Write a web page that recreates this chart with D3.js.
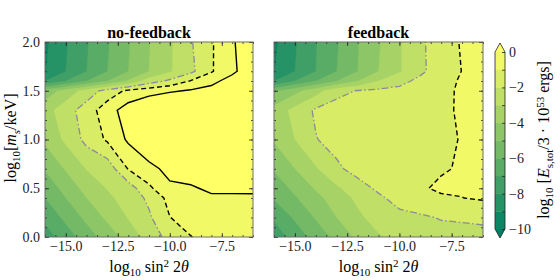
<!DOCTYPE html>
<html>
<head>
<meta charset="utf-8">
<script src="https://cdn.jsdelivr.net/npm/d3@7"></script>
<style>
body { margin: 0; background: #fff; }
</style>
</head>
<body>
<div id="canvas"></div>
<script>
// grid of log10 sin^2 2theta (columns) and m_s (rows)
var xs = [-16, -15, -14, -13, -12, -11, -10, -9, -8, -7, -6];
var ms = [0, 0.2, 0.4, 0.5, 0.7, 1.0, 1.3, 1.5, 1.6, 1.7, 2.0];

// log10 E values, one row per m
var noFeedback = [
  [-7.5, -6.5, -5.5, -4.55, -3.6, -2.6, -1.65, -1.03, -0.7, -0.55, -0.45],
  [-6.75, -5.75, -4.75, -3.8, -2.95, -2.15, -1.02, -0.6, -0.4, -0.3, -0.25],
  [-6.0, -5.0, -4.0, -3.2, -2.6, -1.8, -0.68, -0.35, -0.12, -0.08, -0.06],
  [-5.65, -4.65, -3.65, -2.95, -2.5, -1.2, -0.15, -0.1, 0.15, 0.1, 0.08],
  [-4.9, -3.9, -2.95, -2.6, -0.95, -0.25, 0.25, 0.45, 0.6, 0.65, 0.7],
  [-3.8, -2.8, -1.7, -0.85, 0.15, 0.8, 1.2, 1.5, 1.8, 2.0, 2.2],
  [-3.4, -2.45, -1.5, -0.45, 0.5, 1.2, 1.6, 1.8, 2.0, 2.1, 2.2],
  [-4.6, -3.6, -2.6, -1.6, -0.8, -0.45, -0.15, 0.1, 0.4, 0.8, 1.2],
  [-8.0, -7.0, -6.0, -5.0, -3.9, -2.5, -1.8, -0.95, -0.35, 0.5, 1.1],
  [-9.05, -8.0, -7.0, -6.0, -5.0, -4.0, -3.1, -2.25, -1.08, -0.28, 0.9],
  [-9.2, -8.1, -7.1, -6.1, -5.1, -4.05, -3.15, -2.1, -1.1, -0.15, 0.9]
];

// same for the feedback panel
var feedback = [
  [-7.6, -6.6, -5.6, -4.7, -3.8, -3.1, -2.7, -2.55, -2.35, -2.35, -2.4],
  [-6.85, -5.85, -4.9, -4.0, -3.2, -2.6, -2.3, -2.14, -1.94, -1.88, -1.75],
  [-5.9, -5.1, -4.3, -3.5, -2.8, -2.2, -1.6, -1.35, -1.06, -1.01, -0.9],
  [-5.6, -4.75, -3.9, -3.15, -2.45, -1.8, -1.35, -1.05, -0.93, -0.93, -0.92],
  [-4.9, -4.0, -3.1, -2.2, -1.6, -1.35, -1.2, -1.1, -1.04, -0.96, -0.9],
  [-3.9, -3.0, -2.05, -1.6, -1.45, -1.35, -1.25, -1.2, -1.12, -0.97, -0.85],
  [-3.6, -2.7, -1.85, -1.6, -1.5, -1.45, -1.4, -1.3, -1.12, -0.92, -0.8],
  [-5.2, -4.3, -3.4, -2.3, -1.95, -1.8, -1.75, -1.55, -1.25, -0.85, -0.6],
  [-8.0, -7.0, -6.0, -5.0, -4.0, -3.0, -2.3, -1.75, -1.3, -0.9, -0.55],
  [-9.05, -8.0, -7.0, -6.0, -5.0, -4.0, -3.1, -2.2, -1.5, -0.98, -0.55],
  [-9.2, -8.1, -7.05, -6.1, -5.05, -4.1, -3.1, -2.15, -1.55, -0.9, -0.5]
];

var levels = [-10, -9, -8, -7, -6, -5, -4, -3, -2, -1, 0];
var lineLevels = [-2, -1, 0];
var lineStyles = { "-2": "dashdot", "-1": "dashed", "0": "solid" };
var panelTitles = ["no-feedback", "feedback"];
var xTicks = [-15, -12.5, -10, -7.5];
var yTicks = [0, 0.5, 1.0, 1.5, 2.0];
var cbTicks = [0, -2, -4, -6, -8, -10];

var serif = "'Liberation Serif', 'DejaVu Serif', serif";

draw();

function summer(t) {
  return d3.rgb(255 * t, 255 * (0.5 + 0.5 * t), 102).toString();
}
function bandColor(k) {
  if (k >= 0) return summer(1);
  return summer((k + 0.5 + 10) / 10);
}

function addParts(text, parts) {
  var off = 0;
  parts.forEach(function (p) {
    var target = p.sub ? 4 : p.sup ? -5 : 0;
    text.append("tspan")
      .attr("dy", target - off)
      .style("font-size", (p.sub || p.sup) ? "11px" : null)
      .style("font-style", p.it ? "italic" : null)
      .text(p.t);
    off = target;
  });
}

function draw() {
  var w = 560, h = 280;
  var svg = d3.select("#canvas").append("svg")
    .attr("width", w)
    .attr("height", h);

  var y = d3.scaleLinear().domain([0, 2]).range([237, 42]);
  var panels = [
    { data: noFeedback, x: d3.scaleLinear().domain([-16, -6]).range([45, 253]) },
    { data: feedback, x: d3.scaleLinear().domain([-16, -6]).range([274, 483]) }
  ];

  var nx = xs.length, ny = ms.length;
  // grid index -> data value (non-uniform grid)
  var gx = d3.scaleLinear().domain(d3.range(nx)).range(xs).clamp(true);
  var gy = d3.scaleLinear().domain(d3.range(ny)).range(ms).clamp(true);

  panels.forEach(function (p, pi) {
    var x = p.x;
    var values = [].concat.apply([], p.data);
    var px = function (c) { return x(gx(c - 0.5)); };
    var py = function (c) { return y(gy(c - 0.5)); };
    var path = d3.geoPath(d3.geoTransform({
      point: function (a, b) { this.stream.point(px(a), py(b)); }
    }));

    var contours = d3.contours().size([nx, ny]).thresholds(levels)(values);

    var clipId = "clip" + pi;
    svg.append("clipPath").attr("id", clipId)
      .append("rect")
      .attr("x", x.range()[0]).attr("y", y.range()[1])
      .attr("width", x.range()[1] - x.range()[0])
      .attr("height", y.range()[0] - y.range()[1]);

    var g = svg.append("g").attr("clip-path", "url(#" + clipId + ")");
    g.append("rect")
      .attr("x", x.range()[0]).attr("y", y.range()[1])
      .attr("width", x.range()[1] - x.range()[0])
      .attr("height", y.range()[0] - y.range()[1])
      .attr("fill", summer(0));

    g.selectAll("path.band")
      .data(contours)
      .join("path")
      .attr("class", "band")
      .attr("d", path)
      .attr("fill", function (d) { return bandColor(d.value); })
      .attr("stroke", function (d) { return bandColor(d.value); })
      .attr("stroke-width", 0.3);

    // contour lines, with the parts running along the frame removed
    var X0 = x.range()[0], X1 = x.range()[1], Y0 = y.range()[1], Y1 = y.range()[0];
    var lines = d3.contours().size([nx, ny]).thresholds(lineLevels)(values);
    function onBorder(a, b) {
      var e = 0.01;
      return (Math.abs(a[0] - X0) < e && Math.abs(b[0] - X0) < e) ||
        (Math.abs(a[0] - X1) < e && Math.abs(b[0] - X1) < e) ||
        (Math.abs(a[1] - Y0) < e && Math.abs(b[1] - Y0) < e) ||
        (Math.abs(a[1] - Y1) < e && Math.abs(b[1] - Y1) < e);
    }
    function linePath(geom) {
      var d = "";
      geom.coordinates.forEach(function (poly) {
        poly.forEach(function (ring) {
          var pts = ring.map(function (q) { return [px(q[0]), py(q[1])]; });
          var pen = false;
          for (var i = 1; i < pts.length; i++) {
            var a = pts[i - 1], b = pts[i];
            if (onBorder(a, b)) { pen = false; continue; }
            if (!pen) { d += "M" + a[0].toFixed(2) + "," + a[1].toFixed(2); pen = true; }
            d += "L" + b[0].toFixed(2) + "," + b[1].toFixed(2);
          }
        });
      });
      return d;
    }
    g.selectAll("path.cline")
      .data(lines)
      .join("path")
      .attr("class", "cline")
      .attr("d", linePath)
      .attr("fill", "none")
      .attr("stroke", function (d) { return lineStyles[d.value] === "dashdot" ? "#8a8a9c" : "#000"; })
      .attr("stroke-width", function (d) { return lineStyles[d.value] === "dashdot" ? 1.3 : 1.4; })
      .attr("stroke-dasharray", function (d) {
        var s = lineStyles[d.value];
        if (s === "dashed") return "5,3";
        if (s === "dashdot") return "7,2.5,1.5,2.5";
        return null;
      });

    // axes with inward ticks on all four sides
    var fmtX = d3.format(".1f");
    var axes = svg.append("g");
    var minorX = d3.range(-16, -5.99, 0.5);
    var minorY = d3.range(0, 2.001, 0.1);
    axes.append("g").attr("transform", "translate(0," + Y1 + ")")
      .call(d3.axisBottom(x).tickValues(minorX).tickSize(-2).tickFormat(""));
    axes.append("g").attr("transform", "translate(0," + Y0 + ")")
      .call(d3.axisTop(x).tickValues(minorX).tickSize(-2).tickFormat(""));
    axes.append("g").attr("transform", "translate(0," + Y1 + ")")
      .call(d3.axisBottom(x).tickValues(xTicks).tickSize(-4).tickPadding(4).tickFormat(fmtX));
    axes.append("g").attr("transform", "translate(0," + Y0 + ")")
      .call(d3.axisTop(x).tickValues(xTicks).tickSize(-4).tickFormat(""));
    axes.append("g").attr("transform", "translate(" + X0 + ",0)")
      .call(d3.axisLeft(y).tickValues(minorY).tickSize(-2).tickFormat(""));
    axes.append("g").attr("transform", "translate(" + X1 + ",0)")
      .call(d3.axisRight(y).tickValues(minorY).tickSize(-2).tickFormat(""));
    axes.append("g").attr("transform", "translate(" + X0 + ",0)")
      .call(d3.axisLeft(y).tickValues(yTicks).tickSize(-4).tickPadding(5)
        .tickFormat(pi === 0 ? d3.format(".1f") : ""));
    axes.append("g").attr("transform", "translate(" + X1 + ",0)")
      .call(d3.axisRight(y).tickValues(yTicks).tickSize(-4).tickFormat(""));
    axes.selectAll(".domain").remove();
    axes.selectAll("line").attr("stroke", "#222").attr("stroke-width", 0.8);
    axes.selectAll("text").style("font-size", "14px").attr("fill", "#222");

    svg.append("rect")
      .attr("x", X0).attr("y", Y0)
      .attr("width", X1 - X0).attr("height", Y1 - Y0)
      .attr("fill", "none").attr("stroke", "#6e6e6e").attr("stroke-width", 1);

    svg.append("text")
      .attr("x", (X0 + X1) / 2).attr("y", 38)
      .attr("text-anchor", "middle")
      .style("font-size", "16px").style("font-weight", "bold")
      .text(panelTitles[pi]);

    var xl = svg.append("text")
      .attr("x", (X0 + X1) / 2).attr("y", 272)
      .attr("text-anchor", "middle")
      .style("font-size", "16px");
    addParts(xl, [{ t: "log" }, { t: "10", sub: 1 }, { t: " sin" }, { t: "2", sup: 1 }, { t: " 2" }, { t: "θ", it: 1 }]);
  });

  var yl = svg.append("text")
    .attr("transform", "translate(16,138) rotate(-90)")
    .attr("text-anchor", "middle")
    .style("font-size", "16px");
  addParts(yl, [{ t: "log" }, { t: "10", sub: 1 }, { t: "[" }, { t: "m", it: 1 }, { t: "s", sub: 1, it: 1 }, { t: "/keV]" }]);

  // colorbar with extension triangles
  var cb = d3.scaleLinear().domain([-10, 0]).range([229, 52]);
  var cx0 = 495, cx1 = 505, tri = 9;
  var cbar = svg.append("g");
  cbar.selectAll("rect")
    .data(levels.slice(0, -1))
    .join("rect")
    .attr("x", cx0)
    .attr("y", function (d) { return cb(d + 1); })
    .attr("width", cx1 - cx0)
    .attr("height", function (d) { return cb(d) - cb(d + 1) + 0.3; })
    .attr("fill", bandColor);
  cbar.append("path")
    .attr("d", "M" + cx0 + "," + cb(0) + "L" + (cx0 + cx1) / 2 + "," + (cb(0) - tri) + "L" + cx1 + "," + cb(0) + "Z")
    .attr("fill", summer(1));
  cbar.append("path")
    .attr("d", "M" + cx0 + "," + cb(-10) + "L" + (cx0 + cx1) / 2 + "," + (cb(-10) + tri) + "L" + cx1 + "," + cb(-10) + "Z")
    .attr("fill", summer(0));
  cbar.append("path")
    .attr("d", "M" + cx0 + "," + cb(0) + "L" + (cx0 + cx1) / 2 + "," + (cb(0) - tri) + "L" + cx1 + "," + cb(0) +
      "L" + cx1 + "," + cb(-10) + "L" + (cx0 + cx1) / 2 + "," + (cb(-10) + tri) + "L" + cx0 + "," + cb(-10) + "Z")
    .attr("fill", "none").attr("stroke", "#222").attr("stroke-width", 0.8);
  var cbAxis = svg.append("g").attr("transform", "translate(" + cx1 + ",0)")
    .call(d3.axisRight(cb).tickValues(d3.range(-10, 1)).tickSize(-3).tickPadding(4)
      .tickFormat(function (d) { return cbTicks.indexOf(d) >= 0 ? d3.format("d")(d) : ""; }));
  cbAxis.select(".domain").remove();
  cbAxis.selectAll("line").attr("stroke", "#222").attr("stroke-width", 0.8);
  cbAxis.selectAll("text").style("font-size", "14px").attr("fill", "#222");

  var cl = svg.append("text")
    .attr("transform", "translate(549,140) rotate(-90)")
    .attr("text-anchor", "middle")
    .style("font-size", "16px");
  addParts(cl, [{ t: "log" }, { t: "10", sub: 1 }, { t: " [" }, { t: "E", it: 1 }, { t: "s,tot", sub: 1 },
    { t: "/3 · 10" }, { t: "53", sup: 1 }, { t: " ergs]" }]);

  svg.selectAll("text").style("font-family", serif);
}
</script>
</body>
</html>
